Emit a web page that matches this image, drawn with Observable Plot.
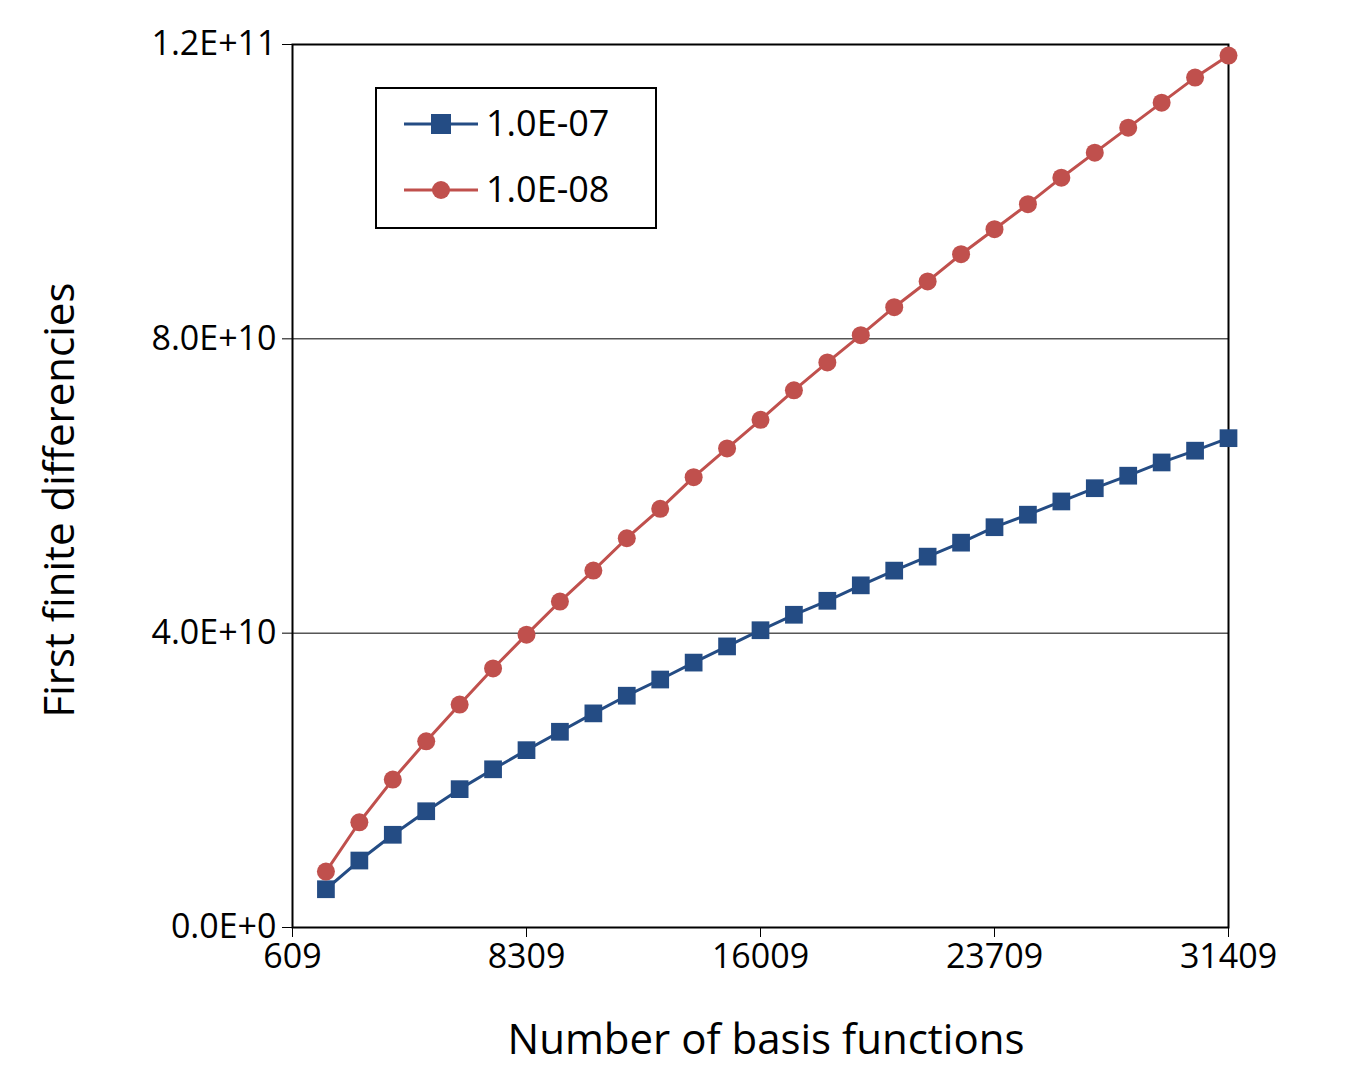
<!DOCTYPE html>
<html>
<head>
<meta charset="utf-8">
<script src="https://cdn.jsdelivr.net/npm/d3@7"></script>
<script src="https://cdn.jsdelivr.net/npm/@observablehq/plot@0.6"></script>
<style>
  body { margin: 0; background: #fff; }
  #chart svg { font-family: "Liberation Sans Narrow", "Open Sans", sans-serif; }
</style>
</head>
<body>
<div id="chart"></div>
<script>
var basis = [1709, 2809, 3909, 5009, 6109, 7209, 8309, 9409, 10509, 11609, 12709, 13809, 14909, 16009,
  17109, 18209, 19309, 20409, 21509, 22609, 23709, 24809, 25909, 27009, 28109, 29209, 30309, 31409];
var eps7 = [5.2, 9.1, 12.6, 15.8, 18.8, 21.5, 24.1, 26.6, 29.1, 31.5, 33.7, 36.0, 38.2, 40.4,
  42.5, 44.4, 46.5, 48.5, 50.4, 52.3, 54.4, 56.1, 57.9, 59.7, 61.4, 63.2, 64.8, 66.5];
var eps8 = [7.6, 14.3, 20.1, 25.3, 30.3, 35.2, 39.8, 44.3, 48.5, 52.9, 56.9, 61.2, 65.1, 69.0,
  73.0, 76.8, 80.5, 84.3, 87.8, 91.5, 94.9, 98.3, 101.9, 105.3, 108.7, 112.1, 115.5, 118.5];
var xTicks = [609, 8309, 16009, 23709, 31409];
var yTicks = [0, 4e10, 8e10, 1.2e11];
var yTickLabels = ["0.0E+0", "4.0E+10", "8.0E+10", "1.2E+11"];
var seriesNames = ["1.0E-07", "1.0E-08"];
var colors = ["#244C84", "#C0504D"];

var rows7 = basis.map(function (b, i) { return { x: b, y: eps7[i] * 1e9 }; });
var rows8 = basis.map(function (b, i) { return { x: b, y: eps8[i] * 1e9 }; });

var chart = Plot.plot({
  width: 1353,
  height: 1067,
  marginLeft: 292,
  marginRight: 125,
  marginTop: 44,
  marginBottom: 140,
  style: { fontSize: "34px", color: "#000" },
  x: { domain: [609, 31409], ticks: xTicks, tickFormat: function (d) { return String(d); }, tickSize: 10, tickPadding: 6, label: null },
  y: { domain: [0, 1.2e11], ticks: yTicks, tickFormat: function (d) { return yTickLabels[yTicks.indexOf(d)]; }, tickSize: 10, tickPadding: 6, label: null },
  marks: [
    Plot.gridY(yTicks, { stroke: "#000", strokeOpacity: 1, strokeWidth: 1 }),
    Plot.frame({ stroke: "#000", strokeWidth: 2 }),
    Plot.line(rows7, { x: "x", y: "y", stroke: colors[0], strokeWidth: 3 }),
    Plot.dot(rows7, { x: "x", y: "y", symbol: "square", r: 10, fill: colors[0] }),
    Plot.line(rows8, { x: "x", y: "y", stroke: colors[1], strokeWidth: 3 }),
    Plot.dot(rows8, { x: "x", y: "y", symbol: "circle", r: 9, fill: colors[1] })
  ]
});

var svg = d3.select(chart);
svg.append("text").attr("x", 766).attr("y", 1054).attr("text-anchor", "middle")
  .attr("font-size", 42).text("Number of basis functions");
svg.append("text").attr("transform", "translate(74,500) rotate(-90)").attr("text-anchor", "middle")
  .attr("font-size", 42).text("First finite differencies");

var lg = svg.append("g");
lg.append("rect").attr("x", 376).attr("y", 88).attr("width", 280).attr("height", 140)
  .attr("fill", "#fff").attr("stroke", "#000").attr("stroke-width", 2);
seriesNames.forEach(function (name, i) {
  var cy = 124 + i * 66;
  lg.append("line").attr("x1", 404).attr("x2", 478).attr("y1", cy).attr("y2", cy)
    .attr("stroke", colors[i]).attr("stroke-width", 3);
  if (i === 0) lg.append("rect").attr("x", 431).attr("y", cy - 10).attr("width", 20).attr("height", 20).attr("fill", colors[i]);
  else lg.append("circle").attr("cx", 441).attr("cy", cy).attr("r", 9).attr("fill", colors[i]);
  lg.append("text").attr("x", 486).attr("y", cy + 12).attr("text-anchor", "start")
    .attr("font-size", 36).text(name);
});

document.getElementById("chart").append(chart);
</script>
</body>
</html>
